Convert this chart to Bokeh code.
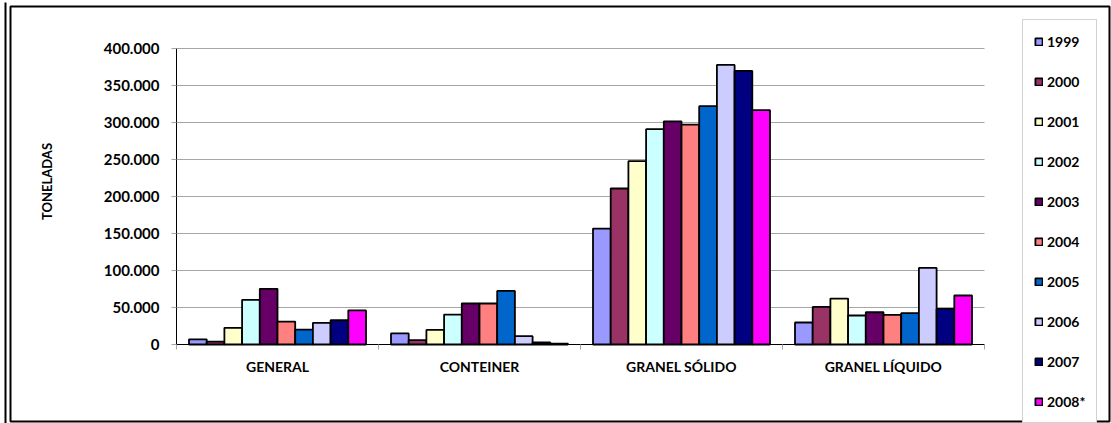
import math
from bokeh.plotting import figure
from bokeh.models import (ColumnDataSource, Range1d, LinearAxis, FixedTicker, CustomJSTickFormatter,
                          Legend, LegendItem, BoxAnnotation, Label, Grid)
from bokeh.transform import dodge
from bokeh.embed import file_html
from bokeh.resources import INLINE

# ---------------- data ----------------
categories = ["GENERAL", "CONTEINER", "GRANEL SÓLIDO", "GRANEL LÍQUIDO"]
years = ["1999", "2000", "2001", "2002", "2003", "2004", "2005", "2006", "2007", "2008*"]

v1999 = [7000, 15000, 156700, 29700]
v2000 = [4000, 5800, 210800, 50800]
v2001 = [22500, 19700, 247700, 62100]
v2002 = [60400, 40500, 291000, 39200]
v2003 = [75300, 55400, 301500, 43600]
v2004 = [31000, 55400, 297000, 40000]
v2005 = [20000, 72400, 322000, 42300]
v2006 = [29300, 11200, 377800, 103500]
v2007 = [32800, 2700, 369700, 48100]
v2008 = [46000, 1000, 316600, 66200]
series = [v1999, v2000, v2001, v2002, v2003, v2004, v2005, v2006, v2007, v2008]

colors = ["#9999FF", "#993366", "#FFFFCC", "#CCFFFF", "#660066",
          "#FF8080", "#0066CC", "#CCCCFF", "#000080", "#FF00FF"]

y_ticks = [0, 50000, 100000, 150000, 200000, 250000, 300000, 350000, 400000]
y_label = "TONELADAS"

# ---------------- layout ----------------
W, H = 1111, 423
PL, PR, PT, PB = 176, 984, 48, 344     # plotting-area edges in canvas px
YMAX = 400000
FONT = "Lato"
NC = len(categories)
centers = [i + 0.5 for i in range(NC)]
bounds_ticks = list(range(NC + 1))


def px_x(px):
    return (px - PL) / (PR - PL) * NC


def px_y(py):
    return (PB - py) / (PB - PT) * YMAX


# the frame covers the whole canvas so that legend / border are not clipped
p = figure(width=W, height=H, x_range=Range1d(px_x(0), px_x(W)), y_range=Range1d(px_y(H), px_y(0)),
           output_backend="svg", toolbar_location=None, title=None,
           x_axis_location=None, y_axis_location=None,
           min_border=0, min_border_left=0, min_border_right=0, min_border_top=0, min_border_bottom=0)
p.outline_line_color = None
p.background_fill_color = "white"
p.border_fill_color = "white"
p.xgrid.visible = False
p.ygrid.visible = False

# gridlines
grid_ticker = FixedTicker(ticks=y_ticks)
use_cross = "cross_bounds" in Grid.properties()
if use_cross:
    g = Grid(dimension=1, ticker=grid_ticker, grid_line_color="#A6A6A6", grid_line_width=1,
             cross_bounds=(0, NC))
    p.add_layout(g)

# bars
n = len(years)
group_px = (PR - PL) / NC
bar_px = 17.7
pad_px = (group_px - n * bar_px) / 2
bar_w = bar_px / group_px
renderers = []
for j, (yr, vals, col) in enumerate(zip(years, series, colors)):
    src = ColumnDataSource(dict(pos=centers, cat=categories, value=vals))
    off = -0.5 + (pad_px + bar_px * (j + 0.5)) / group_px
    r = p.vbar(x=dodge("pos", off), top="value", bottom=0, width=bar_w, source=src,
               fill_color=col, line_color="black", line_width=1.8)
    renderers.append(r)

# y axis
ya = LinearAxis(fixed_location=0, bounds=(0, YMAX), ticker=FixedTicker(ticks=y_ticks),
                formatter=CustomJSTickFormatter(code="return tick.toFixed(0).replace(/\\B(?=(\\d{3})+(?!\\d))/g, '.');"),
                axis_line_color="black", axis_line_width=1,
                major_tick_out=5, major_tick_in=0 if use_cross else (PR - PL),
                major_tick_line_color="#A6A6A6", minor_tick_line_color=None,
                major_label_standoff=12, major_label_text_font=FONT, major_label_text_font_style="bold",
                major_label_text_font_size="15px", major_label_text_color="black")
if not use_cross:
    ya.level = "underlay"
p.add_layout(ya, "left")

# x axis
xa = LinearAxis(fixed_location=0, bounds=(0, NC),
                ticker=FixedTicker(ticks=centers, minor_ticks=bounds_ticks),
                major_label_overrides={c: name for c, name in zip(centers, categories)},
                axis_line_color="black", axis_line_width=1,
                major_tick_line_color=None, major_tick_out=0, major_tick_in=0,
                minor_tick_line_color="#A6A6A6", minor_tick_out=5, minor_tick_in=0,
                major_label_standoff=8, major_label_text_font=FONT, major_label_text_font_style="bold",
                major_label_text_font_size="14px", major_label_text_color="black")
p.add_layout(xa, "below")

# y axis title
p.add_layout(Label(x=px_x(46), y=px_y(181), text=y_label, angle=math.pi / 2,
                   text_align="center", text_baseline="middle", text_font=FONT,
                   text_font_style="bold", text_font_size="13px", text_color="black"))

# legend
legend = Legend(items=[LegendItem(label=yr, renderers=[r]) for yr, r in zip(years, renderers)],
                location=(1022, 0), orientation="vertical",
                glyph_width=9, glyph_height=9, label_height=20, spacing=20, padding=11, margin=0,
                label_standoff=4, label_text_font=FONT, label_text_font_style="bold",
                label_text_font_size="14px", label_text_color="black",
                border_line_color="#A6A6A6", border_line_width=1, background_fill_color="white",
                background_fill_alpha=1)
p.add_layout(legend)

# chart border (double left line)
p.add_layout(BoxAnnotation(left=px_x(10), right=px_x(1109), top=px_y(6), bottom=px_y(421),
                           fill_color=None, fill_alpha=0, line_color="black", line_alpha=1, line_width=2))
p.add_layout(BoxAnnotation(left=px_x(4), right=px_x(6), top=px_y(2), bottom=px_y(H),
                           fill_color="black", fill_alpha=1, line_color=None))

open("out.html", "w").write(file_html(p, INLINE))
